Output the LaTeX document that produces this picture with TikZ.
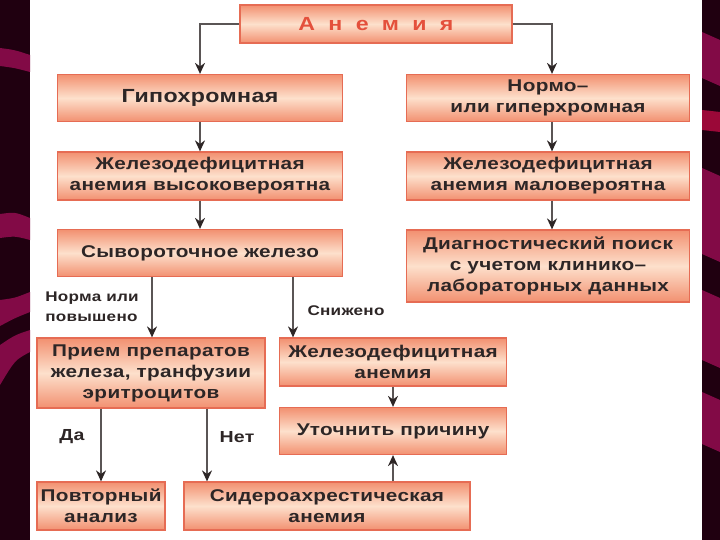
\documentclass[tikz,border=0pt]{standalone}
\usepackage{fontspec}
\setmainfont{Liberation Sans}[FakeStretch=1.22, LetterSpace=2]
\usetikzlibrary{arrows.meta,calc}
\definecolor{edge}{RGB}{230,108,84}
\definecolor{salm}{RGB}{242,144,112}
\definecolor{light}{RGB}{253,224,204}
\definecolor{txt}{RGB}{45,38,38}
\definecolor{ttl}{RGB}{228,80,60}
\definecolor{ln}{RGB}{90,85,85}
\definecolor{bgdark}{RGB}{32,0,16}
\definecolor{stripe}{RGB}{130,10,70}
\tikzset{
  box/.style={draw=edge, line width=1.2pt, rectangle, inner sep=2pt,
    top color=salm, bottom color=salm, middle color=light,
    align=center, text=txt, font=\fontsize{17}{21}\selectfont\bfseries},
  arr/.style={draw=ln, line width=1.6pt, -{Stealth[length=11pt,width=10pt,color=txt]}},
  lbl/.style={text=txt, font=\fontsize{14}{20}\selectfont\bfseries, inner sep=0pt}
}
\begin{document}
\begin{tikzpicture}[x=1pt,y=-1pt]
\useasboundingbox (0,0) rectangle (720,540);
\fill[white] (0,0) rectangle (720,540);
% side strips
\fill[bgdark] (0,0) rectangle (30,540);
\fill[bgdark] (702,0) rectangle (720,540);
\fill[stripe] (0,48) .. controls (15,50) .. (30,55) -- (30,72) .. controls (15,68) .. (0,66) -- cycle;
\fill[stripe] (0,214) .. controls (15,212) .. (30,218) -- (30,240) .. controls (15,236) .. (0,238) -- cycle;
\fill[stripe] (0,300) .. controls (15,298) .. (30,292) -- (30,312) .. controls (15,318) .. (0,326) -- cycle;
\fill[stripe] (0,345) .. controls (15,335) .. (30,330) -- (30,352) .. controls (15,360) .. (0,385) -- cycle;
\fill[stripe] (702,32) -- (720,40) -- (720,86) -- (702,78) -- cycle;
\fill[stripe!80!red] (702,110) -- (720,112) -- (720,132) -- (702,130) -- cycle;
\fill[stripe] (702,168) -- (720,176) -- (720,262) -- (702,254) -- cycle;
\fill[stripe] (702,290) -- (720,298) -- (720,368) -- (702,360) -- cycle;
\fill[stripe] (702,392) -- (720,400) -- (720,452) -- (702,444) -- cycle;

% nodes
\node[box, minimum width=272pt, minimum height=38pt, text=ttl,
  font=\fontsize{19}{20}\selectfont\bfseries] (title) at (376,24) {А\hspace{0.7em}н\hspace{0.7em}е\hspace{0.7em}м\hspace{0.7em}и\hspace{0.7em}я};
\node[box, minimum width=285pt, minimum height=47pt, font=\fontsize{19}{21}\selectfont\bfseries] (hypo) at (200,98) {Гипохромная};
\node[box, minimum width=283pt, minimum height=47pt] (normo) at (548,98) {Нормо–\\или гиперхромная};
\node[box, minimum width=285pt, minimum height=48pt] (zhd1) at (200,176) {Железодефицитная\\анемия высоковероятна};
\node[box, minimum width=283pt, minimum height=48pt] (zhd2) at (548,176) {Железодефицитная\\анемия маловероятна};
\node[box, minimum width=285pt, minimum height=47pt] (syv) at (200,253) {Сывороточное железо};
\node[box, minimum width=283pt, minimum height=72pt] (diag) at (548,266) {Диагностический поиск\\с учетом клинико–\\лабораторных данных};
\node[box, minimum width=228pt, minimum height=70pt] (priem) at (151,373) {Прием препаратов\\железа, транфузии\\эритроцитов};
\node[box, minimum width=227pt, minimum height=48pt] (zhda) at (393,362) {Железодефицитная\\анемия};
\node[box, minimum width=227pt, minimum height=47pt] (utoch) at (393,431) {Уточнить причину};
\node[box, minimum width=128pt, minimum height=48pt] (povt) at (101,506) {Повторный\\анализ};
\node[box, minimum width=286pt, minimum height=48pt] (sidero) at (327,506) {Сидероахрестическая\\анемия};

% labels
\node[lbl, align=left] (l1) at (92,307) {Норма или\\повышено};
\node[lbl] (l2) at (346,311) {Снижено};
\node[lbl, font=\fontsize{16}{18}\selectfont\bfseries] (l3) at (72,437) {Да};
\node[lbl, font=\fontsize{16}{18}\selectfont\bfseries] (l4) at (237,437) {Нет};

% connectors
\draw[arr] (title.west) -| (hypo.north);
\draw[arr] (title.east) -| ([xshift=4pt]normo.north);
\draw[arr] (hypo) -- (zhd1);
\draw[arr] (zhd1) -- (syv);
\draw[arr] ([xshift=4pt]normo.south) -- ([xshift=4pt]zhd2.north);
\draw[arr] ([xshift=4pt]zhd2.south) -- ([xshift=4pt]diag.north);
\draw[arr] ([xshift=-48pt]syv.south) -- ([xshift=1pt]priem.north);
\draw[arr] ([xshift=93pt]syv.south) -- ([xshift=-100pt]zhda.north);
\draw[arr] (zhda) -- (utoch);
\draw[arr] (sidero.north -| utoch.south) -- (utoch.south);
\draw[arr] (povt.north |- priem.south) -- (povt.north);
\draw[arr] ([xshift=56pt]priem.south) -- ([xshift=-120pt]sidero.north);
\end{tikzpicture}
\end{document}
